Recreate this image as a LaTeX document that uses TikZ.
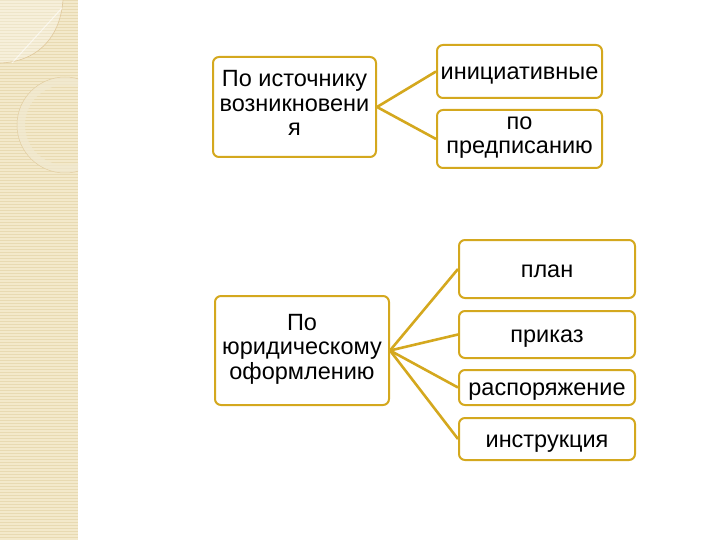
\documentclass[tikz,border=0pt]{standalone}
\usepackage{fontspec}
\setmainfont{Liberation Sans}
\usetikzlibrary{positioning}

\definecolor{gold}{RGB}{212,168,30}
\definecolor{paper}{RGB}{243,233,203}
\definecolor{paperline}{RGB}{232,218,178}

\tikzset{
  catbox/.style={draw=gold, line width=2pt, rounded corners=6pt, fill=white,
    align=center, inner sep=1pt, font=\fontsize{23.5}{24.5}\selectfont,
    execute at begin node={\rule{0pt}{24pt}}, execute at end node=\strut},
  multibox/.style={catbox, execute at begin node={\rule{0pt}{34pt}}},
  link/.style={draw=gold, line width=2.6pt}
}

\begin{document}
\begin{tikzpicture}[x=1pt, y=-1pt]
    \useasboundingbox (0,0) rectangle (720,540);
    % textured strip on the left
    \fill[paper] (0,0) rectangle (78,540);
    \begin{scope}
      \clip (0,0) rectangle (78,540);
      \foreach \y in {0,3,...,540} {
        \draw[paperline, line width=.9pt] (0,\y) -- (78,\y);
      }
      \fill[white, opacity=.3] (0,0) -- (63,0) .. controls (60,40) and (35,62) .. (0,63) -- cycle;
      \draw[paperline!80!brown, line width=.6pt] (63,0) .. controls (60,40) and (35,62) .. (0,63);
      \draw[white, line width=1pt, opacity=.6] (12,63) -- (62,8);
      \draw[paperline!60!white, line width=8pt, opacity=.7] (65,125) circle[radius=44];
      \draw[paperline!85!brown, line width=.5pt] (65,125) circle[radius=48];
    \end{scope}

    % first group
    \node[multibox, minimum width=163, minimum height=100] (src) at (294.5,107)
      {По источнику\\возникновени\\я};
    \node[catbox, minimum width=165, minimum height=53] (init) at (519.5,71.5) {инициативные};
    \node[multibox, minimum width=165, minimum height=58] (presc) at (519.5,139) {по\\предписанию};
    \draw[link] (src.east) -- (init.west);
    \draw[link] (src.east) -- (presc.west);

    % second group
    \node[multibox, minimum width=174, minimum height=109] (legal) at (302,350.5)
      {По\\юридическому\\оформлению};
    \node[catbox, minimum width=176, minimum height=58] (plan) at (547,269) {план};
    \node[catbox, minimum width=176, minimum height=47] (order) at (547,334.5) {приказ};
    \node[catbox, minimum width=176, minimum height=35] (decree) at (547,387.5) {распоряжение};
    \node[catbox, minimum width=176, minimum height=42] (instr) at (547,439) {инструкция};
    \foreach \n in {plan,order,decree,instr} {
      \draw[link] (legal.east) -- (\n.west);
    }
\end{tikzpicture}
\end{document}
